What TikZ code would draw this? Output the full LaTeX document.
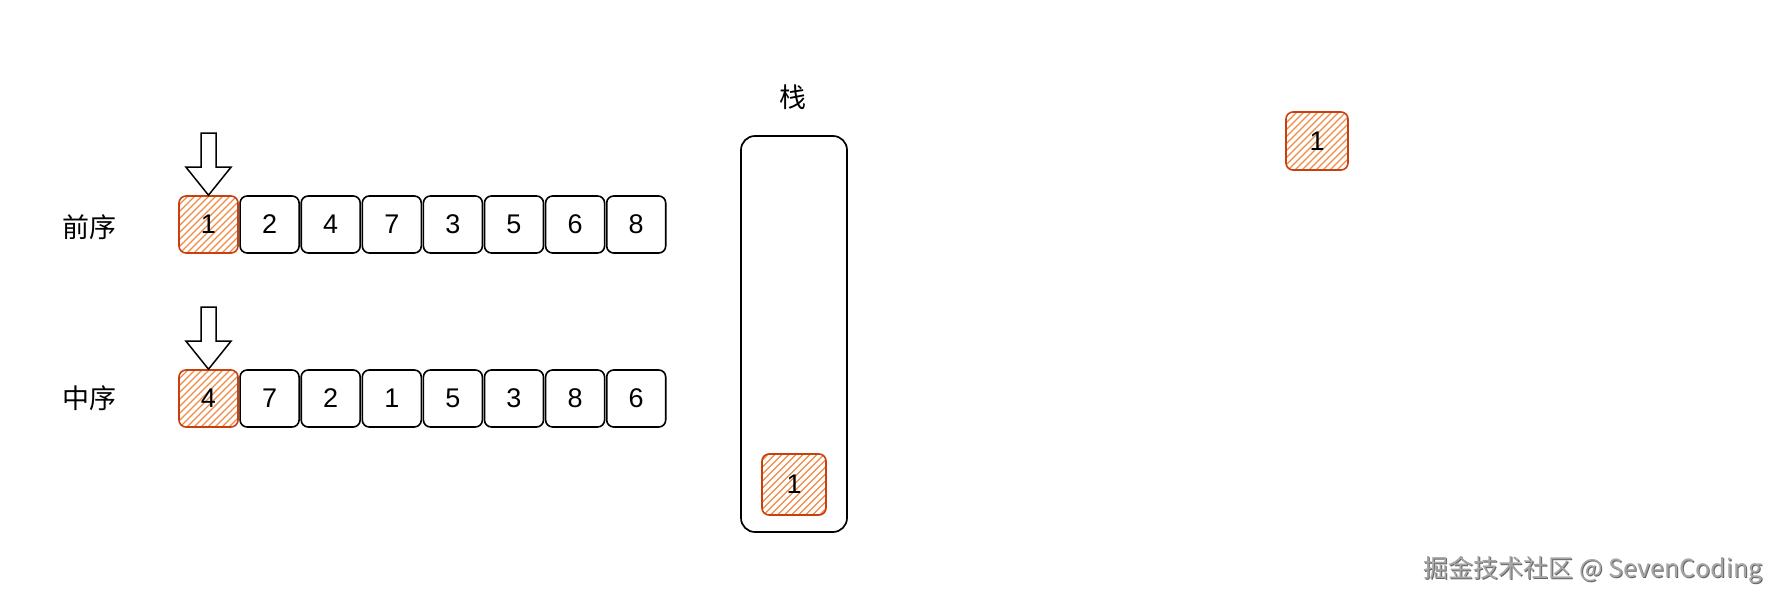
\documentclass[tikz,border=0pt]{standalone}
\usepackage{fontspec}
\setmainfont{Liberation Sans}
\newfontfamily\cjk{Noto Sans CJK SC}
\usetikzlibrary{calc}
\definecolor{strokered}{HTML}{C8400E}
\definecolor{hatchc}{HTML}{F08A45}
\begin{document}
\begin{tikzpicture}[x=1pt,y=-1pt,
  cell/.style={draw=black, line width=1.6pt, rounded corners=7pt, minimum width=59pt, minimum height=57pt, inner sep=0pt, font=\fontsize{27}{27}\selectfont},
  redcell/.style={cell, draw=strokered, path picture={
     \foreach \k in {-14,...,14}{\draw[hatchc, line width=1.1pt] ($(path picture bounding box.center)+(\k*7pt-45pt,-45pt)$) -- ++(90pt,90pt);}}},
  lab/.style={font=\cjk\fontsize{27}{27}\selectfont},
  blockarrow/.style={draw=black, line width=1.5pt, fill=white, line join=miter}
]
\useasboundingbox (0,0) rectangle (1786,601);
% preorder row
\foreach \v [count=\i] in {1,2,4,7,3,5,6,8}{
  \ifnum\i=1
    \node[redcell] (p\i) at (208.5+61.1*\i-61.1,224.5) {\v};
  \else
    \node[cell] (p\i) at (208.5+61.1*\i-61.1,224.5) {\v};
  \fi
}
\foreach \v [count=\i] in {4,7,2,1,5,3,8,6}{
  \ifnum\i=1
    \node[redcell] (m\i) at (208.5+61.1*\i-61.1,398.5) {\v};
  \else
    \node[cell] (m\i) at (208.5+61.1*\i-61.1,398.5) {\v};
  \fi
}
\node[lab] (pre) at (89,227) {前序};
\node[lab] (mid) at (89,398) {中序};
% arrows
\draw[blockarrow] (p1.north) -- ++(-22.5,-28) -- ++(15,0) -- ++(0,-34) -- ++(15,0) -- ++(0,34) -- ++(15,0) -- cycle;
\draw[blockarrow] (m1.north) -- ++(-22.5,-28) -- ++(15,0) -- ++(0,-34) -- ++(15,0) -- ++(0,34) -- ++(15,0) -- cycle;
% stack
\node[lab] (stlabel) at (793,97) {栈};
\node[draw, line width=1.7pt, rounded corners=14pt, minimum width=106pt, minimum height=396pt, inner sep=0pt] (stack) at (794,334) {};
\node[redcell, minimum width=64pt, minimum height=61pt] (s1) at (794,484.5) {1};
% output
\node[redcell, minimum width=62pt, minimum height=58pt] (o1) at (1317,141) {1};
% watermark
\node[anchor=east, font=\cjk\fontsize{25}{25}\selectfont, text=black!60] (wms) at (1767,571) {掘金技术社区 @ SevenCoding};
\node[anchor=east, font=\cjk\fontsize{25}{25}\selectfont, text=black!35] (wm) at (1766,570) {掘金技术社区 @ SevenCoding};
\end{tikzpicture}
\end{document}
